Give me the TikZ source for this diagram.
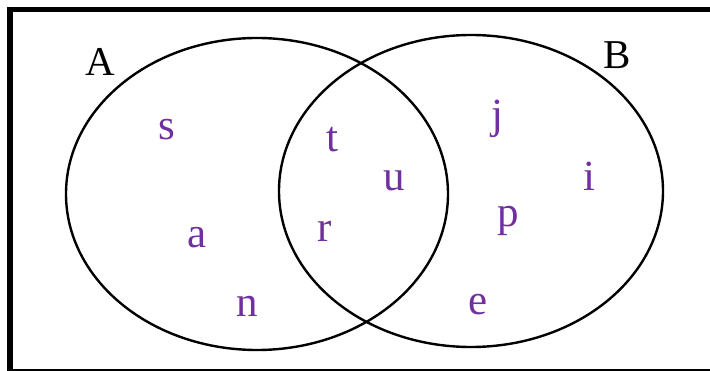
\documentclass[tikz,border=0pt]{standalone}
\usepackage{fontspec}
\setmainfont{Liberation Serif}
\usetikzlibrary{shapes.geometric}
\definecolor{elempurple}{HTML}{7030A0}
\tikzset{
  setcurve/.style={draw, ellipse, line width=2.4pt, inner sep=0pt, minimum height=312pt},
  setname/.style={font=\fontsize{41}{48}\selectfont, anchor=base},
  elem/.style={text=elempurple, font=\fontsize{43}{50}\selectfont, anchor=base},
}

\begin{document}
\begin{tikzpicture}[x=1pt, y=-1pt]
  \useasboundingbox (0,0) rectangle (710,371);
  \clip (0,0) rectangle (710,371);
  \draw[line width=5.5pt] (10,9.5) rectangle (760,372);
  % the two sets
  \node[setcurve, minimum width=382pt] (setA) at (257,194) {};
  \node[setcurve, minimum width=384pt] (setB) at (471,191) {};
  \node[setname] (nameA) at (100,76) {A};
  \node[setname] (nameB) at (617,69) {B};
  % elements
  \node[elem] (s) at (167,140) {s};
  \node[elem] (a) at (197,248) {a};
  \node[elem] (n) at (247,317) {n};
  \node[elem] (t) at (332,152) {t};
  \node[elem] (u) at (394,191) {u};
  \node[elem] (r) at (325,242) {r};
  \node[elem] (j) at (497,129) {j};
  \node[elem] (i) at (589,191) {i};
  \node[elem] (p) at (508,227) {p};
  \node[elem] (e) at (478,315) {e};
\end{tikzpicture}
\end{document}
